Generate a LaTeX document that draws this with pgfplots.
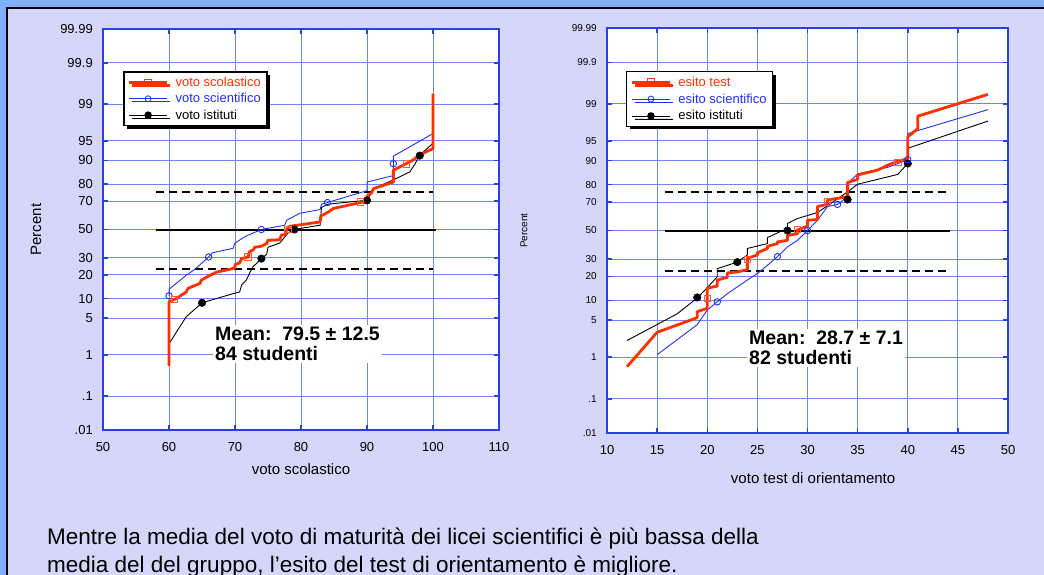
\documentclass[border=0pt]{standalone}
\usepackage{pgfplots}
\pgfplotsset{compat=1.18}
\usepackage{fontspec}
\setmainfont{Liberation Sans}
\usetikzlibrary{shadows}
\definecolor{bgblue}{RGB}{128,176,255}
\definecolor{lav}{RGB}{213,215,250}
\definecolor{gridc}{RGB}{112,132,238}
\definecolor{framec}{RGB}{40,64,228}
\definecolor{sred}{RGB}{255,48,0}
\definecolor{sblue}{RGB}{30,50,240}
\pgfplotsset{
  probit/.style={
    scale only axis,
    axis background/.style={fill=white},
    axis line style={framec, line width=2pt},
    grid=major,
    major grid style={gridc, line width=0.9pt},
    tick style={framec, line width=1.5pt},
    major tick length=5pt, tick align=inside,
    ymin=-3.719, ymax=3.719,
    ytick={-3.719,-3.090,-2.326,-1.645,-1.2816,-0.8416,-0.5244,0,0.5244,0.8416,1.2816,1.645,2.326,3.090,3.719},
    yticklabels={.01,.1,1,5,10,20,30,50,70,80,90,95,99,99.9,99.99},
    /pgf/number format/assume math mode=true,
    xticklabel style={font=\fontsize{13}{13}\selectfont, inner sep=0pt, anchor=north, yshift=-12pt},
    legend cell align=left,
    clip=false,
  },
  redline/.style={sred, line width=2.8pt, line join=round},
  blueline/.style={sblue, line width=0.9pt},
  blackline/.style={black, line width=0.9pt},
  redmk/.style={only marks, mark=square, mark size=3.3pt, mark options={sred!80!white, line width=0.8pt}},
  bluemk/.style={only marks, mark=o, mark size=3.2pt, mark options={sblue, line width=0.9pt}},
  blackmk/.style={only marks, mark=*, mark size=3.8pt, mark options={black}},
  refdash/.style={black, line width=2pt, dash pattern=on 8pt off 5pt},
  refsolid/.style={black, line width=2pt},
  mylegend/.style={
    legend style={draw=black, line width=1.5pt, fill=white,
      drop shadow={shadow xshift=3pt, shadow yshift=-3pt, opacity=1, fill=black},
      font=\fontsize{13}{13}\selectfont, inner xsep=4pt, inner ysep=3pt, row sep=1.5pt,
      /tikz/every odd column/.append style={column sep=5pt}},
    legend image code/.code={\draw[##1, mark repeat=2, mark phase=2] plot coordinates {(0pt,0pt) (19pt,0pt) (38pt,0pt)};},
  },
}
\begin{document}
\begin{tikzpicture}
\path[use as bounding box] (0pt,0pt) rectangle (1044pt,-575pt);
\fill[bgblue] (0pt,0pt) rectangle (1044pt,-575pt);
\fill[lav] (7pt,-8pt) rectangle (1044pt,-575pt);
\draw[black, line width=1.5pt] (7pt,-575pt) -- (7pt,-8pt) -- (1044pt,-8pt);

% ---------------- left panel ----------------
\begin{axis}[probit, mylegend,
  at={(103pt,-430pt)}, anchor=south west,
  width=396pt, height=401pt,
  xmin=50, xmax=110, xtick={50,60,...,110},
  yticklabel style={font=\fontsize{13}{13}\selectfont, inner sep=0pt, anchor=east, xshift=-10pt},
  xlabel={voto scolastico}, ylabel={Percent},
  every axis x label/.style={at={(axis description cs:0.5,-0.097)}, anchor=center, font=\fontsize{15}{15}\selectfont},
  every axis y label/.style={at={(axis description cs:-0.169,0.5)}, anchor=center, rotate=90, font=\fontsize{15}{15}\selectfont},
  legend style={at={(0.0505,0.895)}, anchor=north west},
]
\addlegendimage{redline, mark=square, mark size=3.3pt, mark options={sred, line width=0.8pt, solid}}
\addlegendentry{\textcolor{sred}{voto scolastico}}
\addlegendimage{blueline, mark=o, mark size=3pt, mark options={sblue, line width=0.8pt}}
\addlegendentry{\textcolor{sblue}{voto scientifico}}
\addlegendimage{blackline, mark=*, mark size=3.3pt, mark options={black}}
\addlegendentry{voto istituti}

\addplot[refdash, forget plot] coordinates {(58,0.70) (100,0.70)};
\addplot[refdash, forget plot] coordinates {(58,-0.74) (100,-0.74)};
\addplot[refsolid, forget plot] coordinates {(58,0) (100.5,0)};

% voto istituti
\addplot[blackline, forget plot] coordinates {
(60,-2.12) (62.6,-1.62) (65,-1.36) (69.7,-1.19) (70.7,-1.16) (71,-1.03) (71.7,-0.94)
(72.5,-0.74) (72.75,-0.69) (74,-0.54) (74.8,-0.46) (75,-0.33) (76.8,-0.25) (78,-0.07)
(78.9,0) (82.9,0.08) (83.1,0.41) (84.1,0.47) (89.8,0.54) (90,0.54) (91,0.76) (94,0.92)
(96.5,1.07) (97.3,1.22) (97.9,1.37) (100,1.60) (100,2.12)};
\addplot[blackmk, forget plot] coordinates {(65,-1.36) (74,-0.54) (79,0) (90,0.54) (98,1.37)};

% voto scientifico
\addplot[blueline, forget plot] coordinates {
(60,-1.23) (60,-1.11) (62.6,-0.85) (63.9,-0.74) (66,-0.51) (66.6,-0.43) (69.7,-0.35)
(70,-0.25) (71.7,-0.12) (74,0) (77.55,0.08) (77.8,0.17) (79.8,0.30) (82.9,0.37)
(83.1,0.47) (84,0.50) (90,0.72) (90,0.88) (94,1.0) (94,1.36) (96,1.50) (100,1.78) (100,1.85)};
\addplot[bluemk, forget plot] coordinates {(60,-1.23) (66,-0.51) (74,0) (84,0.50) (94,1.22)};

% voto scolastico
\addplot[redline, forget plot] coordinates {
(60,-2.53) (60,-1.34) (61.1,-1.28) (62.6,-1.16) (62.9,-1.09) (64.7,-1.0) (64.9,-0.94)
(65.9,-0.87) (67.2,-0.79) (69.2,-0.74) (69.7,-0.72) (70,-0.72) (70,-0.65) (70.7,-0.62)
(71,-0.54) (72,-0.51) (72.2,-0.41) (72.75,-0.38) (73,-0.33) (74,-0.31) (74.8,-0.26)
(75,-0.20) (76.8,-0.19) (77,-0.105) (77.7,-0.09) (77.8,0) (78.3,0.06) (82.9,0.14)
(83,0.25) (84.1,0.32) (84.9,0.39) (87.9,0.47) (89.4,0.51) (89.8,0.54) (90,0.61)
(90.7,0.68) (91,0.76) (94,0.88) (94,1.10) (95.75,1.21) (97,1.29) (97.9,1.38)
(100,1.50) (100,2.52)};
\addplot[redmk, forget plot] coordinates {(60.8,-1.30) (72,-0.51) (78,0.0) (89,0.51) (96,1.22)};
\end{axis}

% ---------------- right panel ----------------
\begin{axis}[probit, mylegend,
  at={(607pt,-433pt)}, anchor=south west,
  width=401pt, height=405pt,
  xmin=10, xmax=50, xtick={10,15,...,50},
  yticklabel style={font=\fontsize{10}{10}\selectfont, inner sep=0pt, anchor=east, xshift=-10pt},
  xlabel={voto test di orientamento}, ylabel={Percent},
  every axis x label/.style={at={(axis description cs:0.514,-0.111)}, anchor=center, font=\fontsize{15}{15}\selectfont},
  every axis y label/.style={at={(axis description cs:-0.207,0.5)}, anchor=center, rotate=90, font=\fontsize{10}{10}\selectfont},
  legend style={at={(0.047,0.894)}, anchor=north west, row sep=2pt},
]
\addlegendimage{redline, mark=square, mark size=3.3pt, mark options={sred, line width=0.8pt, solid}}
\addlegendentry{\textcolor{sred}{esito test}}
\addlegendimage{blueline, mark=o, mark size=3pt, mark options={sblue, line width=0.8pt}}
\addlegendentry{\textcolor{sblue}{esito scientifico}}
\addlegendimage{blackline, mark=*, mark size=3.3pt, mark options={black}}
\addlegendentry{esito istituti}

\addplot[refdash, forget plot] coordinates {(15.8,0.70) (43.9,0.70)};
\addplot[refdash, forget plot] coordinates {(15.8,-0.743) (43.9,-0.743)};
\addplot[refsolid, forget plot] coordinates {(15.8,0) (44.2,0)};

% esito istituti
\addplot[blackline, forget plot] coordinates {
(12,-2.02) (17,-1.53) (19,-1.24) (20,-1.05) (21,-0.85) (21,-0.70) (23,-0.58) (24,-0.45)
(24,-0.33) (26,-0.24) (26,-0.13) (28,0.04) (28,0.13) (29,0.22) (31,0.33) (34,0.71)
(35,0.85) (39,1.03) (40,1.23) (40,1.51) (48,2.01)};
\addplot[blackmk, forget plot] coordinates {(19,-1.23) (23,-0.58) (28,0) (34,0.57) (40,1.23)};

% esito scientifico
\addplot[blueline, forget plot] coordinates {
(15,-2.28) (19,-1.73) (20,-1.46) (21,-1.31) (22,-1.16) (24,-0.91) (25,-0.79) (26,-0.64)
(27,-0.48) (28,-0.30) (29,-0.18) (30,0) (31,0.19) (32,0.44) (33,0.48) (34,0.62)
(34,0.86) (35,1.04) (38,1.16) (40,1.30) (40,1.78) (48,2.22)};
\addplot[bluemk, forget plot] coordinates {(21,-1.31) (27,-0.48) (30,0) (33,0.48) (40,1.30)};

% esito test
\addplot[redline, forget plot] coordinates {
(12,-2.50) (15,-1.87) (19,-1.60) (19,-1.49) (20,-1.43) (20,-1.06) (21,-1.02) (21,-0.91)
(22,-0.86) (22,-0.78) (23,-0.76) (24,-0.72) (24,-0.51) (25,-0.45) (25,-0.41) (26,-0.33)
(26,-0.29) (27,-0.24) (27,-0.21) (28,-0.18) (28,-0.09) (29,-0.06) (29,0.01) (30,0.08)
(30,0.19) (31,0.20) (31,0.44) (32,0.48) (32,0.56) (33,0.59) (34,0.62) (34,0.88)
(35,0.94) (35,1.02) (37,1.11) (38,1.20) (39,1.27) (40,1.32) (40,1.72) (41,1.87)
(41,2.10) (48,2.50)};
\addplot[redmk, forget plot] coordinates {(20,-1.25) (24,-0.53) (29,0.02) (32,0.53) (39,1.25)};
\end{axis}

% mean annotations
\node[fill=white, anchor=north west, inner sep=2pt, align=left,
      font=\fontsize{19.5}{20}\selectfont\bfseries] at (213pt,-325pt)
  {Mean:\ \ 79.5 ± 12.5\\84 studenti};
\node[fill=white, anchor=north west, inner sep=2pt, align=left,
      font=\fontsize{19.5}{20}\selectfont\bfseries] at (747pt,-329pt)
  {Mean:\ \ 28.7 ± 7.1\\82 studenti};

% bottom text
\node[anchor=base west, inner sep=0pt, font=\fontsize{22.5}{22.5}\selectfont] at (47pt,-544pt)
  {Mentre la media del voto di maturità dei licei scientifici è più bassa della};
\node[anchor=base west, inner sep=0pt, font=\fontsize{22.5}{22.5}\selectfont] at (47pt,-572pt)
  {media del del gruppo, l’esito del test di orientamento è migliore.};
\end{tikzpicture}
\end{document}
